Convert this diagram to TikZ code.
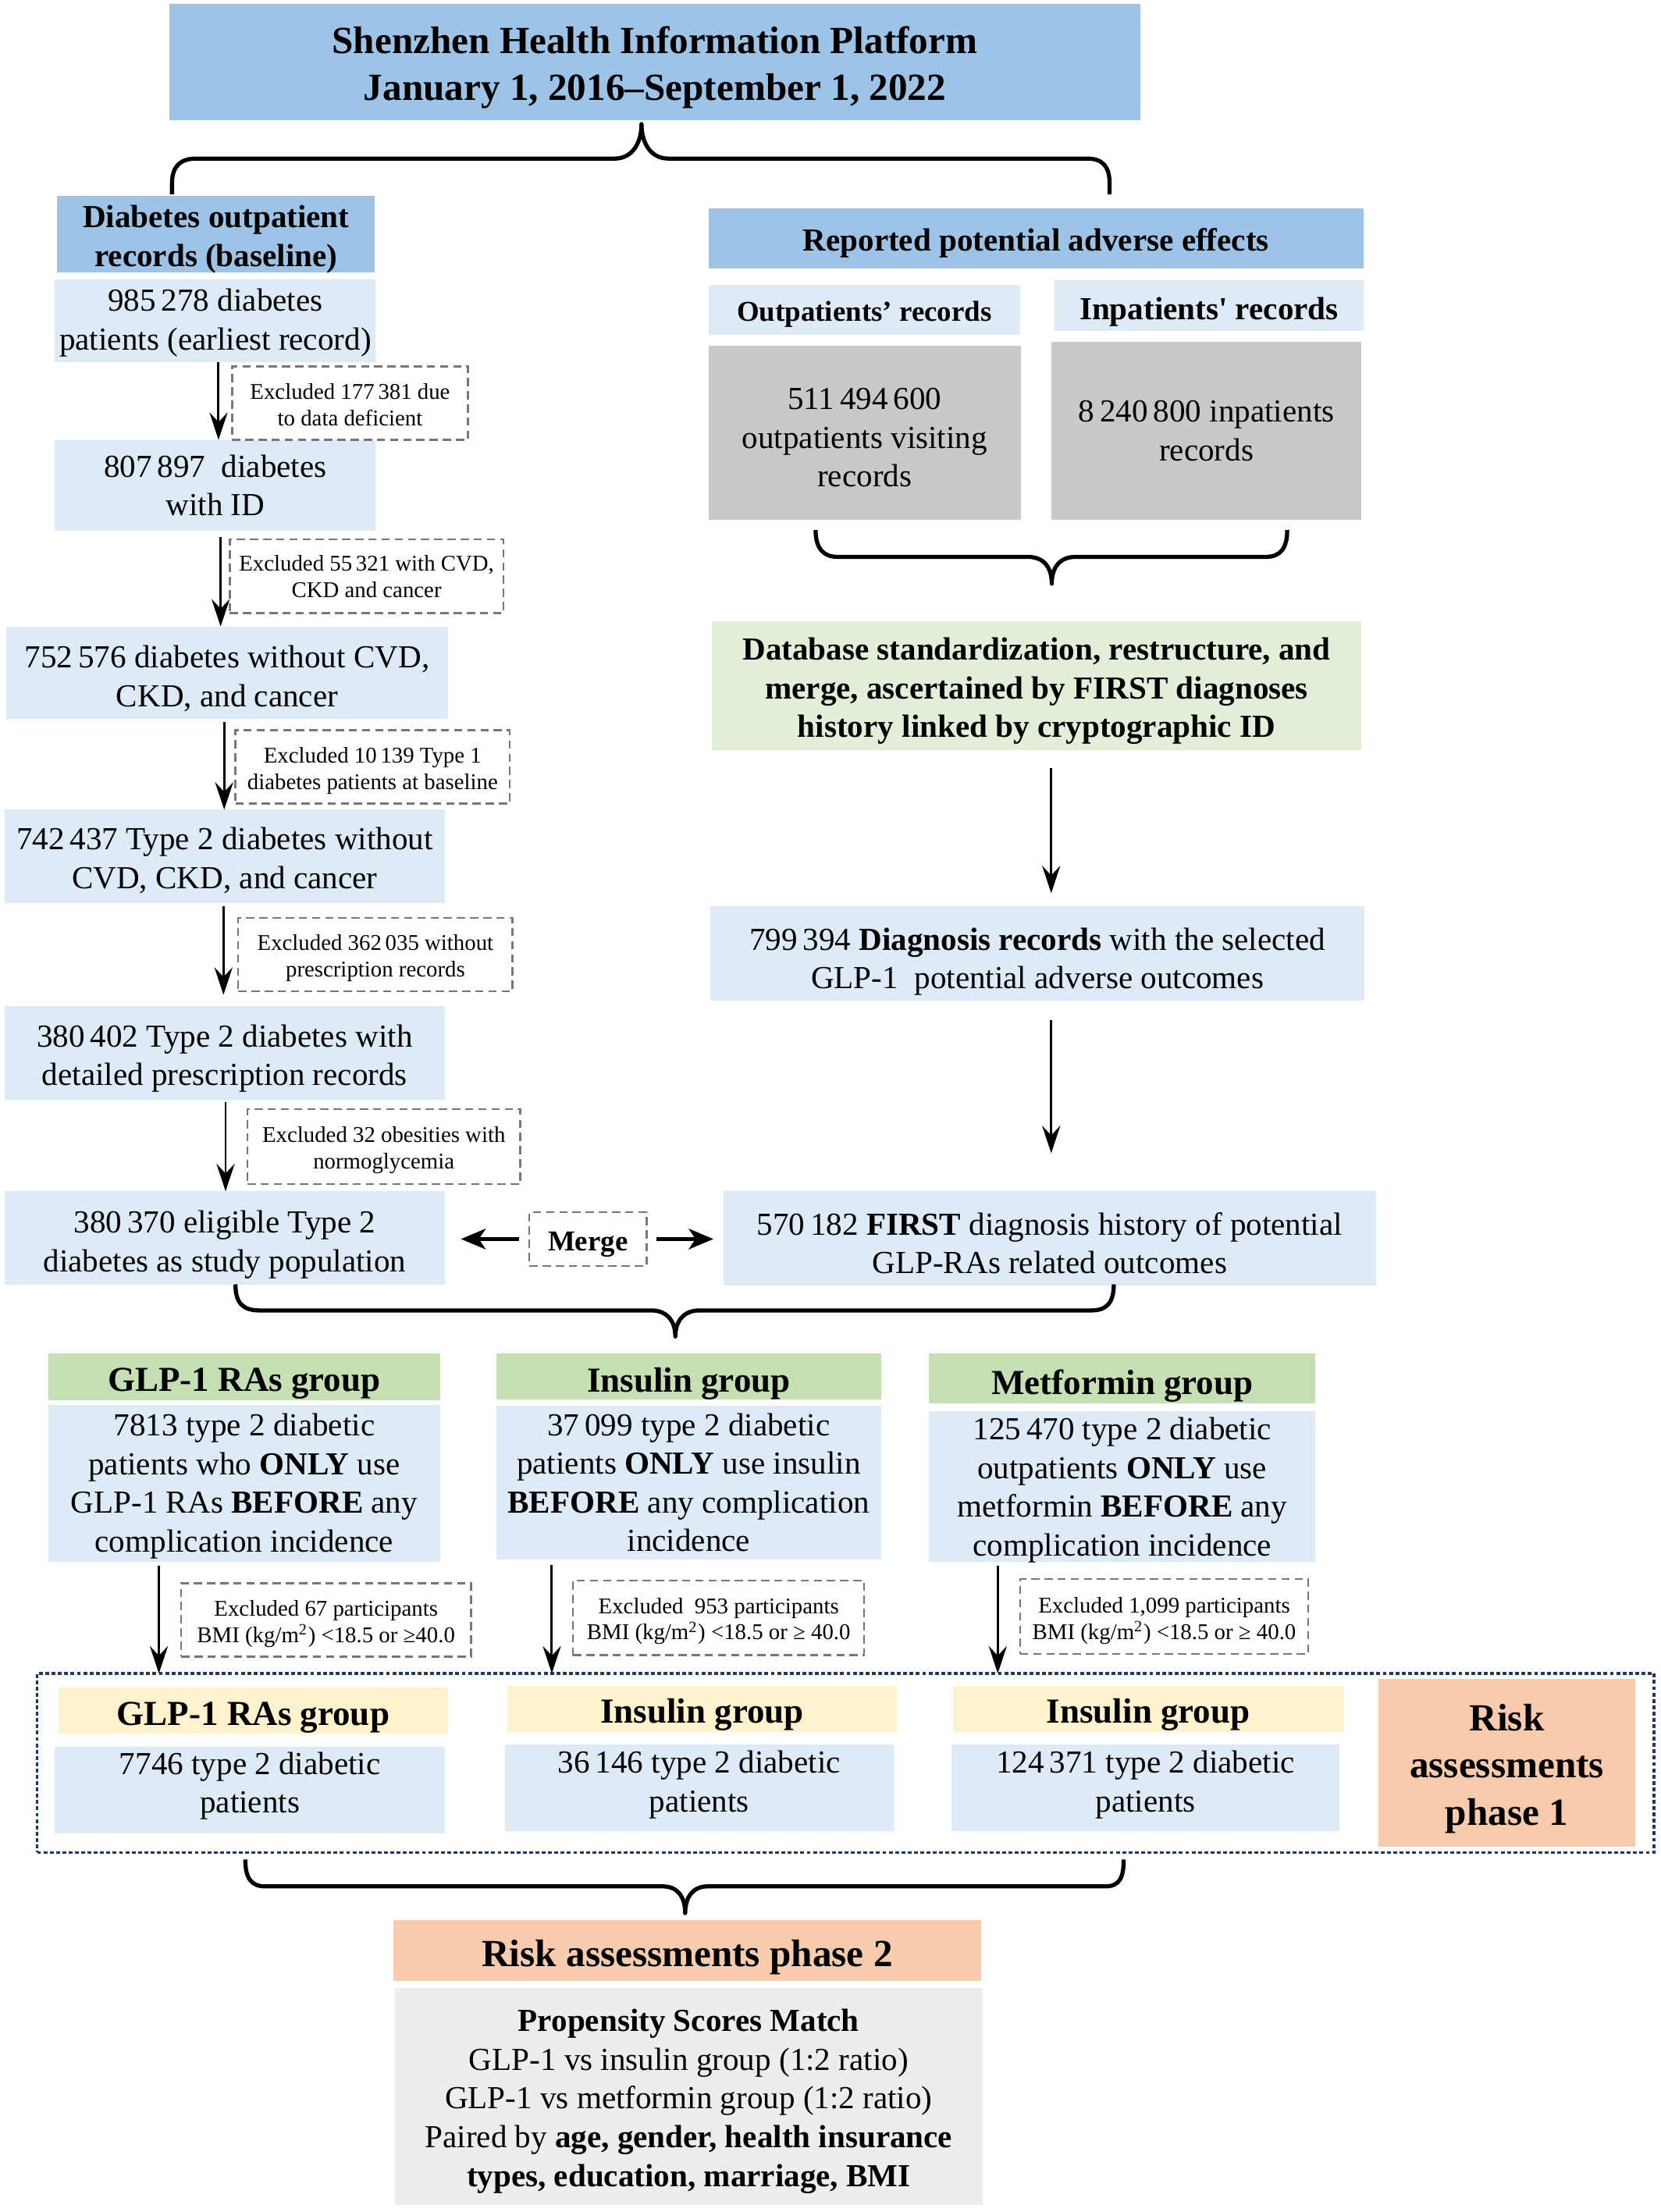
\documentclass[tikz,border=0pt]{standalone}
\usepackage{fontspec}
\setmainfont{Liberation Serif}
\newfontfamily\straight{Liberation Serif}[Ligatures=TeXOff]
\usetikzlibrary{arrows.meta}
\definecolor{midblue}{RGB}{157,195,230}
\definecolor{lightblue}{RGB}{222,235,247}
\definecolor{grayA}{RGB}{201,201,201}
\definecolor{grayB}{RGB}{237,237,237}
\definecolor{greenA}{RGB}{197,224,180}
\definecolor{greenB}{RGB}{226,240,217}
\definecolor{yellowA}{RGB}{255,242,204}
\definecolor{orangeA}{RGB}{248,203,173}
\definecolor{navy}{RGB}{31,56,100}
\definecolor{dashgray}{RGB}{118,118,118}
\newcommand\fbody{\fontsize{11.7}{14.1}\selectfont}
\newcommand\fbold{\fontsize{11.7}{14.1}\selectfont\bfseries}
\newcommand\fsub{\fontsize{10.5}{12.6}\selectfont\bfseries}
\newcommand\fhead{\fontsize{12.8}{15}\selectfont\bfseries}
\newcommand\ftitle{\fontsize{14}{17}\selectfont\bfseries}
\newcommand\frisk{\fontsize{14}{17.2}\selectfont\bfseries}
\newcommand\fsmall{\fontsize{8.2}{9.6}\selectfont}
\newcommand\fmerge{\fontsize{10.5}{12.6}\selectfont\bfseries}
% \bx[text shift down]{name}{x1}{y1}{x2}{y2}{style}{text}
\newcommand\bx[8][3]{%
  \node[#7, minimum width={(#5-#3)*0.514pt}, minimum height={(#6-#4)*0.514pt}] (#2) at ({(#3+#5)/2},{(#4+#6)/2}) {};
  \node[#7, fill=none, draw=none] (#2-t) at ({(#3+#5)/2},{(#4+#6)/2+#1}) {#8};}
\tikzset{
  box/.style={inner sep=0pt, outer sep=0pt, align=center, font=\fbody},
  excl/.style={box, draw=dashgray, dash pattern=on 3pt off 1.8pt, line width=0.7pt, fill=white, font=\fsmall},
  dotframe/.style={inner sep=0pt, outer sep=0pt, draw=navy, line width=1.1pt, dash pattern=on 1.4pt off 0.9pt},
  arr/.style={line width=0.85pt, -{Stealth[length=10pt,width=6.6pt,inset=3.5pt]}},
  marr/.style={line width=1.2pt, -{Stealth[length=9pt,width=7.5pt,inset=2.5pt]}},
  brace/.style={line width=1.5pt, line cap=butt, line join=round}
}
\begin{document}
\begin{tikzpicture}[x=0.514pt, y=-0.514pt]
\fill[white] (0,0) rectangle (1178,1569);
\useasboundingbox (0,0) rectangle (1178,1569);

% title
\bx[4]{title}{120}{3}{809}{85}{box,fill=midblue,font=\ftitle}{Shenzhen Health Information Platform\\January 1, 2016–September 1, 2022}

% left column
\bx[3.5]{base}{40.5}{139}{266}{193.5}{box,fill=midblue,font=\fbold}{Diabetes outpatient\\records (baseline)}
\bx[1.5]{b1}{39}{198}{266.5}{257}{box,fill=lightblue}{985\,278 diabetes\\patients (earliest record)}
\bx[0]{b2}{39}{312}{266.5}{376.5}{box,fill=lightblue}{807\,897\ \ diabetes\\with ID}
\bx[4]{b3}{4.7}{444.4}{317.6}{510}{box,fill=lightblue}{752\,576 diabetes without CVD,\\CKD, and cancer}
\bx[3]{b4}{3.1}{574.3}{315.7}{640.3}{box,fill=lightblue}{742\,437 Type 2 diabetes without\\CVD, CKD, and cancer}
\bx[4]{b5}{3.1}{713.4}{315.7}{780}{box,fill=lightblue}{380\,402 Type 2 diabetes with\\detailed prescription records}
\bx[5]{b6}{3.1}{845}{315.7}{911}{box,fill=lightblue}{380\,370 eligible Type 2\\diabetes as study population}

\bx[1]{e1}{164.6}{260}{332}{312}{excl}{Excluded 177\,381 due\\to data deficient}
\bx[0]{e2}{163}{382.6}{357}{434.9}{excl}{Excluded 55\,321 with CVD,\\CKD and cancer}
\bx[3]{e3}{167}{517.9}{361.5}{570}{excl}{Excluded 10\,139 Type 1\\diabetes patients at baseline}
\bx[2.5]{e4}{169}{651}{363.5}{703}{excl}{Excluded 362\,035 without\\prescription records}
\bx[2.5]{e5}{175.5}{786.6}{369}{840}{excl}{Excluded 32 obesities with\\normoglycemia}

\bx[4]{merge}{375.5}{859.7}{458.6}{898}{excl,font=\fmerge}{Merge}

% right column
\bx[3]{rep}{502.6}{148}{967}{190.5}{box,fill=midblue,font=\fbold}{Reported potential adverse effects}
\bx[3]{outh}{502.6}{202}{723.5}{237.6}{box,fill=lightblue,font=\fsub}{Outpatients’ records}
\bx[4]{inh}{748}{199}{967}{235}{box,fill=lightblue,font=\fbold}{Inpatients{\straight'} records}
\bx[3.5]{outg}{502.6}{245}{724}{368.7}{box,fill=grayA}{511\,494\,600\\outpatients visiting\\records}
\bx[0]{ing}{746}{242.5}{965.5}{368.7}{box,fill=grayA}{8\,240\,800 inpatients\\records}
\bx[4]{db}{505}{440.6}{965.5}{532}{box,fill=greenB,font=\fbold}{Database standardization, restructure, and\\merge, ascertained by FIRST diagnoses\\history linked by cryptographic ID}
\bx[6]{diag}{504}{642.5}{967.6}{709.7}{box,fill=lightblue}{799\,394 \textbf{Diagnosis records} with the selected\\GLP-1\ \ potential adverse outcomes}
\bx[3.5]{first}{513}{845}{976}{911.7}{box,fill=lightblue}{570\,182 \textbf{FIRST} diagnosis history of potential\\GLP-RAs related outcomes}

% groups
\bx[5]{g1h}{34.5}{960}{312}{993}{box,fill=greenA,font=\fhead}{GLP-1 RAs group}
\bx[2]{g1}{34.5}{996.5}{312}{1108}{box,fill=lightblue}{7813 type 2 diabetic\\patients who \textbf{ONLY} use\\GLP-1 RAs \textbf{BEFORE} any\\complication incidence}
\bx[5]{g2h}{352}{960}{625}{992.5}{box,fill=greenA,font=\fhead}{Insulin group}
\bx[0]{g2}{352}{997}{625}{1106}{box,fill=lightblue}{37\,099 type 2 diabetic\\patients \textbf{ONLY} use insulin\\\textbf{BEFORE} any complication\\incidence}
\bx[5]{g3h}{659}{960}{933}{995.7}{box,fill=greenA,font=\fhead}{Metformin group}
\bx[2.5]{g3}{659}{1001}{933}{1108}{box,fill=lightblue}{125\,470 type 2 diabetic\\outpatients \textbf{ONLY} use\\metformin \textbf{BEFORE} any\\complication incidence}

\bx[3]{x1}{128.5}{1123}{334}{1175}{excl}{Excluded 67 participants\\BMI (kg/m\textsuperscript{2}) <18.5 or ≥40.0}
\bx[2.5]{x2}{406.5}{1121}{613}{1174}{excl}{Excluded\ \ 953 participants\\BMI (kg/m\textsuperscript{2}) <18.5 or ≥ 40.0}
\bx[3]{x3}{723.5}{1120}{928}{1173}{excl}{Excluded 1,099 participants\\BMI (kg/m\textsuperscript{2}) <18.5 or ≥ 40.0}

% phase 1 frame
\bx[0]{frame}{26.3}{1187}{1173}{1314}{dotframe}{}
\bx[5]{p1h}{41.3}{1197}{318}{1229.5}{box,fill=yellowA,font=\fhead}{GLP-1 RAs group}
\bx[-3]{p1}{39}{1239}{315.6}{1300.6}{box,fill=lightblue}{7746 type 2 diabetic\\patients}
\bx[4]{p2h}{360}{1195.7}{636}{1228.5}{box,fill=yellowA,font=\fhead}{Insulin group}
\bx[-2.5]{p2}{358}{1237.6}{634}{1299}{box,fill=lightblue}{36\,146 type 2 diabetic\\patients}
\bx[4]{p3h}{676}{1195.7}{953}{1228.5}{box,fill=yellowA,font=\fhead}{Insulin group}
\bx[-2.5]{p3}{675}{1237.6}{950}{1299}{box,fill=lightblue}{124\,371 type 2 diabetic\\patients}
\bx[4]{risk1}{977.6}{1191}{1160}{1310}{box,fill=orangeA,font=\frisk}{Risk\\assessments\\phase 1}

% phase 2
\bx[5]{risk2}{279}{1362}{696}{1405}{box,fill=orangeA,font=\frisk}{Risk assessments phase 2}
\bx[3.5]{psm}{280}{1410}{697}{1564}{box,fill=grayB}{\textbf{Propensity Scores Match}\\GLP-1 vs insulin group (1:2 ratio)\\GLP-1 vs metformin group (1:2 ratio)\\Paired by \textbf{age, gender, health insurance}\\\textbf{types, education, marriage, BMI}}

% arrow columns
\coordinate (c1) at (155,0);
\coordinate (c2) at (156.5,0);
\coordinate (c3) at (159,0);
\coordinate (c4) at (158.5,0);
\coordinate (c5) at (160,0);
\coordinate (c6) at (745.6,0);
\coordinate (c7) at (112.7,0);
\coordinate (c8) at (391.4,0);
\coordinate (c9) at (707.7,0);

\draw[arr] (b1.south -| c1) -- (b2.north -| c1);
\draw[arr, shorten <=2.3pt] (b2.south -| c2) -- (b3.north -| c2);
\draw[arr, shorten <=1.2pt] (b3.south -| c3) -- (b4.north -| c3);
\draw[arr, shorten <=1.2pt, shorten >=4pt] (b4.south -| c4) -- (b5.north -| c4);
\draw[arr, shorten <=1pt] (b5.south -| c5) -- (b6.north -| c5);
\draw[arr, shorten <=6.5pt, shorten >=4.6pt] (db.south -| c6) -- (diag.north -| c6);
\draw[arr, shorten <=7.2pt, shorten >=13.9pt] (diag.south -| c6) -- (first.north -| c6);
\draw[marr, shorten <=3.9pt, shorten >=5.8pt] (merge.west) -- (b6.east |- merge.west);
\draw[marr, shorten <=3.6pt, shorten >=3.6pt] (merge.east) -- (first.west |- merge.east);
\draw[arr, shorten <=1.2pt] (g1.south -| c7) -- (frame.north -| c7);
\draw[arr, shorten <=2pt] (g2.south -| c8) -- (frame.north -| c8);
\draw[arr, shorten <=1.2pt] (g3.south -| c9) -- (frame.north -| c9);

% braces
\draw[brace] (122,138) -- (122,130) .. controls (122,118) and (128,112.5) .. (139,112.5) -- (436,112.5) .. controls (448,112.5) and (455,102) .. (455,88) .. controls (455,102) and (462,112.5) .. (474,112.5) -- (771,112.5) .. controls (782,112.5) and (787,118) .. (787,130) -- (787,138);
\draw[brace] (578.5,376) .. controls (578.5,389) and (584,395) .. (594,395) -- (729,395) .. controls (740,395) and (746,402) .. (746,414) .. controls (746,402) and (752,395) .. (763,395) -- (898,395) .. controls (908,395) and (913,389) .. (913,376);
\draw[brace] (167,911) .. controls (167,924) and (172,929.5) .. (184,929.5) -- (462,929.5) .. controls (473,929.5) and (479,937) .. (479,948) .. controls (479,937) and (485,929.5) .. (496,929.5) -- (774,929.5) .. controls (785,929.5) and (790,924) .. (790,911);
\draw[brace] (174,1319) .. controls (174,1332) and (178,1338) .. (188,1338) -- (470,1338) .. controls (481,1338) and (486,1346) .. (486,1357) .. controls (486,1346) and (491,1338) .. (502,1338) -- (784,1338) .. controls (794,1338) and (797,1332) .. (797,1319);
\end{tikzpicture}
\end{document}
